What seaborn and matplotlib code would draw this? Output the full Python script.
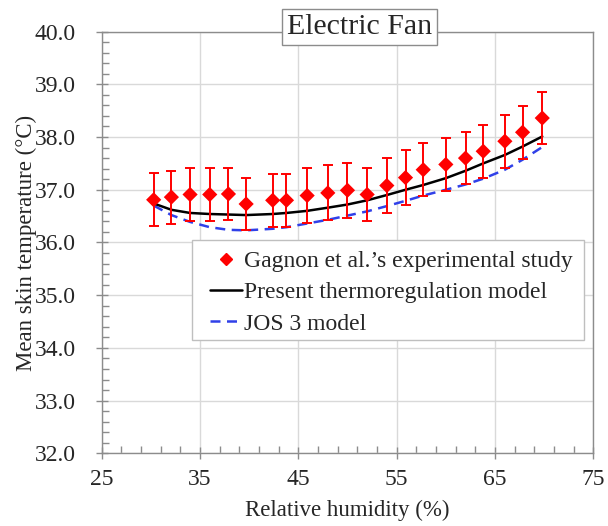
import matplotlib
matplotlib.use("Agg")
import matplotlib.pyplot as plt
import seaborn as sns
import pandas as pd
from matplotlib.ticker import MultipleLocator, FormatStrFormatter
from matplotlib.lines import Line2D
from matplotlib.patches import Rectangle

# ---- data ----
rh = [30.3, 32.1, 34.0, 36.0, 37.9, 39.7, 42.4, 43.8, 45.9, 48.0, 50.0,
      52.0, 54.0, 55.9, 57.7, 60.0, 62.0, 63.8, 66.0, 67.8, 69.8]
exp_mean = [36.81, 36.86, 36.91, 36.91, 36.92, 36.73, 36.80, 36.80, 36.89, 36.94, 36.99,
            36.91, 37.08, 37.23, 37.38, 37.48, 37.60, 37.73, 37.92, 38.09, 38.36]
exp_err = [0.50, 0.50, 0.51, 0.51, 0.50, 0.50, 0.50, 0.50, 0.52, 0.52, 0.52,
           0.50, 0.52, 0.52, 0.50, 0.50, 0.50, 0.50, 0.50, 0.50, 0.49]
present_model = [36.74, 36.62, 36.56, 36.54, 36.53, 36.52, 36.54, 36.56, 36.60, 36.66, 36.72,
                 36.80, 36.90, 37.00, 37.09, 37.22, 37.36, 37.50, 37.66, 37.82, 38.01]
jos3_model = [36.70, 36.52, 36.39, 36.29, 36.24, 36.23, 36.26, 36.29, 36.36, 36.43, 36.51,
              36.59, 36.69, 36.79, 36.89, 37.00, 37.10, 37.21, 37.38, 37.57, 37.81]

labels = ["Gagnon et al.\u2019s experimental study",
          "Present thermoregulation model",
          "JOS 3 model"]
x_ticks = [25, 35, 45, 55, 65, 75]
title = "Electric Fan"
xlabel = "Relative humidity (%)"
ylabel = "Mean skin temperature (\u00b0C)"

df = pd.DataFrame({"rh": rh, "exp": exp_mean, "err": exp_err,
                   "present": present_model, "jos": jos3_model})

sns.set_theme(style="white")
plt.rcParams["font.family"] = ["Liberation Serif", "DejaVu Serif"]

fig = plt.figure(figsize=(6.08, 5.26), dpi=100)
ax = fig.add_axes([0.167, 0.138, 0.809, 0.802])

grid_c = "#d9d9d9"
spine_c = "#8c8c8c"
red = "#ff0000"
blue = "#3040e8"
dash = (0, (4, 2.6))

sns.lineplot(data=df, x="rh", y="jos", ax=ax, color=blue, lw=1.8,
             linestyle=dash, zorder=3, legend=False)
sns.lineplot(data=df, x="rh", y="present", ax=ax, color="black", lw=1.8,
             zorder=4, legend=False)
ax.errorbar(df["rh"], df["exp"], yerr=df["err"], fmt="none", ecolor=red,
            elinewidth=1.4, capsize=3.5, capthick=1.4, zorder=5)
sns.scatterplot(data=df, x="rh", y="exp", ax=ax, marker="D", color=red,
                s=60, edgecolor="none", zorder=6, legend=False)

ax.set_xlim(25, 75)
ax.set_ylim(32, 40)
ax.set_xticks(x_ticks)
ax.xaxis.set_minor_locator(MultipleLocator(2, offset=1))
ax.yaxis.set_major_locator(MultipleLocator(1))
ax.yaxis.set_minor_locator(MultipleLocator(0.2))
ax.yaxis.set_major_formatter(FormatStrFormatter("%.1f"))

ax.grid(True, which="major", color=grid_c, lw=1.0)
ax.set_axisbelow(True)
for s in ax.spines.values():
    s.set_color(spine_c)
    s.set_linewidth(1.0)
    s.set_visible(True)

ax.tick_params(which="major", direction="inout", length=9, width=1.0,
               color=spine_c, labelsize=17)
ax.tick_params(axis="y", which="major", pad=14)
ax.tick_params(axis="x", which="major", pad=7)
ax.tick_params(which="minor", direction="in", length=5, width=1.0, color=spine_c)
ax.tick_params(which="both", top=False, right=False, bottom=True, left=True)

ax.set_xlabel(xlabel, fontsize=16.5, labelpad=7)
ax.set_ylabel(ylabel, fontsize=16.5, labelpad=-2)

ax.text(0.525, 1.0107, title, transform=ax.transAxes, ha="center", va="center",
        fontsize=21.5, zorder=10,
        bbox=dict(boxstyle="square,pad=0.16", fc="white", ec=spine_c, lw=1.0))

# legend frame
ax.add_patch(Rectangle((0.1837, 0.2686), 0.981 - 0.1837, 0.5057 - 0.2686,
                       transform=ax.transAxes, fc="white", ec="#bfbfbf",
                       lw=1.0, zorder=7))
handles = [
    Line2D([], [], marker="D", color=red, linestyle="none", markersize=6.5),
    Line2D([], [], color="black", lw=1.8),
    Line2D([], [], color=blue, lw=1.8, linestyle=dash),
]
leg = ax.legend(handles, labels, loc="upper left", bbox_to_anchor=(0.2203, 0.4815),
                fontsize=17, frameon=False, handlelength=1.35, handletextpad=0.1,
                labelspacing=0.42, borderpad=0, borderaxespad=0)
leg.set_zorder(8)

fig.savefig("out.png", dpi=100)
